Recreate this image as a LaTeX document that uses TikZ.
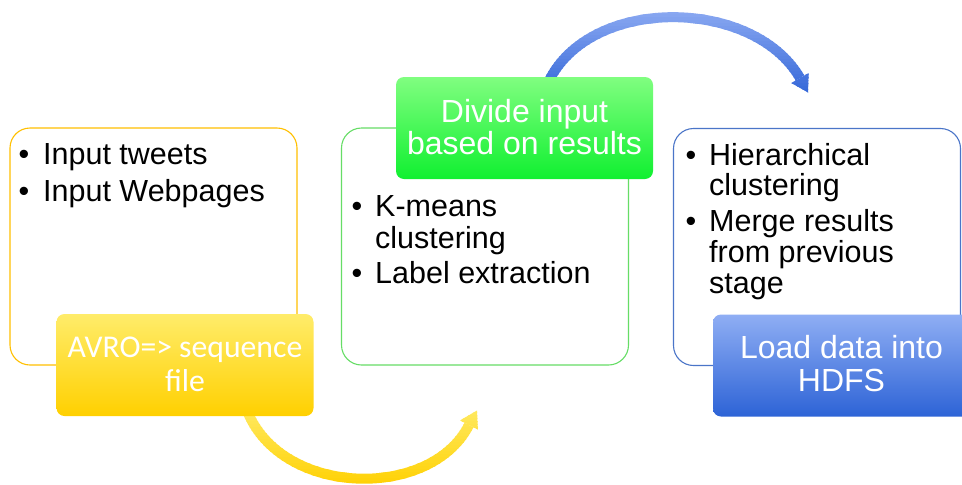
\documentclass[tikz,border=0pt]{standalone}
\usepackage{fontspec}
\setmainfont{Liberation Sans}
\newfontfamily\calfont{Carlito}
\definecolor{yOut}{RGB}{255,192,0}
\definecolor{gOut}{RGB}{102,221,102}
\definecolor{bOut}{RGB}{74,117,200}
\definecolor{yLight}{RGB}{255,236,106}
\definecolor{yDark}{RGB}{255,208,0}
\definecolor{gLight}{RGB}{128,254,128}
\definecolor{gDark}{RGB}{16,240,48}
\definecolor{bLight}{RGB}{143,174,244}
\definecolor{bDark}{RGB}{45,99,214}
\definecolor{baLight}{RGB}{143,172,243}
\definecolor{baDark}{RGB}{52,103,216}
\begin{document}
\begin{tikzpicture}[x=1pt,y=-1pt,
  outline/.style={line width=1.1pt, rounded corners=20pt, fill=white, minimum width=287pt, minimum height=237pt, inner sep=0pt},
  fillbox/.style={rounded corners=8pt, minimum width=257pt, minimum height=102pt, inner sep=0pt},
  txt/.style={anchor=base west, inner sep=0pt, font=\fontsize{30.5}{30}\selectfont},
  wtxt/.style={anchor=base, inner sep=0pt, text=white, font=\fontsize{32}{32}\selectfont},
  ctxt/.style={anchor=base, inner sep=0pt, text=white, font=\calfont\fontsize{31.7}{32}\selectfont}
]
\clip (0,0) rectangle (962,485);
\fill[white] (0,0) rectangle (962,485);

% outline boxes
\node[outline, draw=yOut] (yout) at (153.5,246.5) {};
\node[outline, draw=gOut] (gout) at (485,246.5) {};
\node[outline, draw=bOut] (bout) at (817,247) {};

% blue curved arrow
\coordinate (bS) at (545,90);
\coordinate (bC1) at (580,-5);
\coordinate (bC2) at (752,-5);
\coordinate (bE) at (800,78);
\coordinate (bB1) at (808.7,73);
\coordinate (bB2) at (791.3,83);
\coordinate (bT) at (808,92.5);
\foreach \i in {0,...,29}{
  \pgfmathsetmacro\ya{5+3*\i}
  \pgfmathsetmacro\yb{\ya+3.6}
  \pgfmathsetmacro\pc{100*\i/29}
  \begin{scope}
    \clip (0,\ya) rectangle (962,\yb);
    \draw[line width=10pt, draw=baDark!\pc!baLight] (bS) .. controls (bC1) and (bC2) .. (bE);
    \fill[baDark!\pc!baLight] (bT) -- (bB1) -- (bB2) -- cycle;
  \end{scope}
}

% yellow curved arrow
\coordinate (yS) at (245,405);
\coordinate (yC1) at (275,497);
\coordinate (yC2) at (430,502);
\coordinate (yE) at (469,425);
\coordinate (yB1) at (477.9,429.6);
\coordinate (yB2) at (460.1,420.4);
\coordinate (yT) at (477,410.5);
\foreach \i in {0,...,29}{
  \pgfmathsetmacro\ya{400+3*\i}
  \pgfmathsetmacro\yb{\ya+3.6}
  \pgfmathsetmacro\pc{100*\i/29}
  \begin{scope}
    \clip (0,\ya) rectangle (962,\yb);
    \draw[line width=10pt, draw=yDark!\pc!yLight] (yS) .. controls (yC1) and (yC2) .. (yE);
    \fill[yDark!\pc!yLight] (yT) -- (yB1) -- (yB2) -- cycle;
  \end{scope}
}

% filled boxes
\node[fillbox, top color=yLight, bottom color=yDark] (yfill) at (185,365) {};
\node[fillbox, top color=gLight, bottom color=gDark] (gfill) at (524.5,128) {};
\node[fillbox, top color=bLight, bottom color=bDark] (bfill) at (841.5,365.5) {};

% yellow box texts
\node[txt] (yb1) at (18.5,164) {•};
\node[txt] (yt1) at (43,164) {Input tweets};
\node[txt] (yb2) at (18.5,201) {•};
\node[txt] (yt2) at (43,201) {Input Webpages};

% green box texts
\node[txt] (gb1) at (351.5,216.5) {•};
\node[txt] (gt1) at (375,216.5) {K-means};
\node[txt] (gt1b) at (375,248) {clustering};
\node[txt] (gb2) at (351.5,283) {•};
\node[txt] (gt2) at (375,283) {Label extraction};

% blue box texts
\node[txt] (bb1) at (685.5,165) {•};
\node[txt] (bt1) at (709,165) {Hierarchical};
\node[txt] (bt1b) at (709,195) {clustering};
\node[txt] (bb2) at (685.5,231) {•};
\node[txt] (bt2) at (709,231) {Merge results};
\node[txt] (bt2b) at (709,262) {from previous};
\node[txt] (bt2c) at (709,293) {stage};

% filled box texts
\node[ctxt] (yf1) at (185,357) {AVRO=> sequence};
\node[ctxt] (yf2) at (185,391) {file};
\node[wtxt] (gf1) at (524.5,122) {Divide input};
\node[wtxt] (gf2) at (524.5,154) {based on results};
\node[wtxt] (bf1) at (841.5,358) {Load data into};
\node[wtxt] (bf2) at (841.5,391) {HDFS};
\end{tikzpicture}
\end{document}
